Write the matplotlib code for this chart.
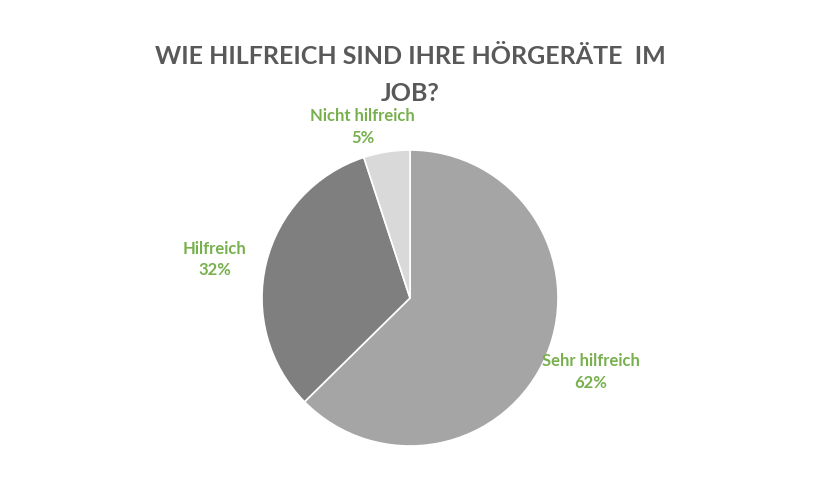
import matplotlib
matplotlib.use('Agg')
import matplotlib.pyplot as plt

categories = ['Sehr hilfreich', 'Hilfreich', 'Nicht hilfreich']
values = [62, 32, 5]
colors = ['#a5a5a5', '#7f7f7f', '#d9d9d9']
title = 'WIE HILFREICH SIND IHRE HÖRGERÄTE  IM\nJOB?'

# label anchor positions in pie data units
label_pos = [(1.22, -0.50), (-1.32, 0.26), (-0.32, 1.155)]

plt.rcParams['font.family'] = ['Lato', 'DejaVu Sans']

fig = plt.figure(figsize=(8.22, 4.96), dpi=100)
cx, cy, r = 410, 298, 148
ax = fig.add_axes([(cx - r) / 822, (496 - cy - r) / 496, 2 * r / 822, 2 * r / 496])
ax.pie(values, colors=colors, startangle=90, counterclock=False,
       wedgeprops=dict(edgecolor='white', linewidth=1.2))
ax.set_xlim(-1, 1)
ax.set_ylim(-1, 1)
ax.set_aspect('equal')

for name, val, (x, y) in zip(categories, values, label_pos):
    ax.text(x, y, f'{name}\n{val}%', ha='center', va='center', color='#78b04e',
            fontsize=12, fontweight='bold', linespacing=1.45, clip_on=False)

fig.text(410 / 822, 1 - 75 / 496, title, ha='center', va='center', color='#595959',
         fontsize=18, fontweight='bold', linespacing=1.75)

fig.savefig('out.png', dpi=100)
